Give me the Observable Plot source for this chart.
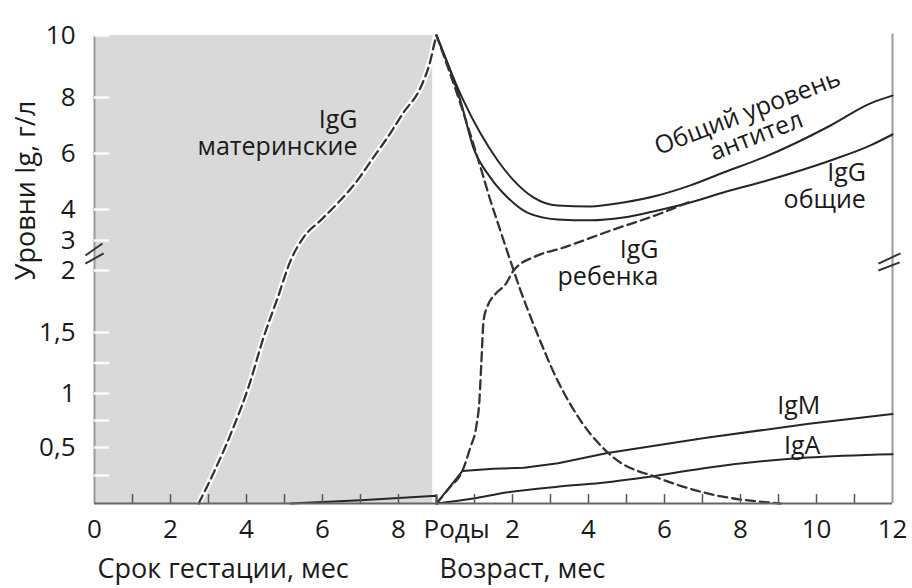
<!DOCTYPE html>
<html><head><meta charset="utf-8">
<script src="https://cdn.jsdelivr.net/npm/d3@7"></script>
<script src="https://cdn.jsdelivr.net/npm/@observablehq/plot@0.6"></script>
<style>body{margin:0;background:#fff} svg{display:block;background:#fff}</style>
</head><body><div id="chart"></div>
<script>
// ---- axis / tick definitions ----
const BIRTH = 9;                       // gestation months at birth (timeline position of "Роды")
const TIMELINE_END = 21;               // 9 months gestation + 12 months of age
const gestTicks = [0, 2, 4, 6, 8];
const ageTicks = [2, 4, 6, 8, 10, 12];
const monthTicks = d3.range(1, 21);
const yMajorTicks = [0.5, 1, 1.5, 2, 3, 4, 6, 8, 10];
const yTickLabels = ["0,5", "1", "1,5", "2", "3", "4", "6", "8", "10"];
const yMinorTicks = [0.25, 0.75, 1.25];
const shadedGestation = [0, 8.9];

// broken y axis: value stops and their height share on the drawn axis
const yStops = [0, 0.5, 1, 1.5, 2, 3, 4, 6, 8, 10];
const yStopShare = [0, 56, 110, 171, 233, 263, 294, 350, 406, 468];

// ---- series (values in g/l) ----
// maternal IgG, before birth (gestation months)
const maternalPreMonths = [2.74, 3.13, 3.66, 4.05, 4.45, 4.82, 5.16, 5.5, 5.95, 6.39, 6.92, 7.34, 7.71, 8.13, 8.58, 8.84, 8.95, 9];
const maternalPreValues = [0, 0.27, 0.69, 1.05, 1.46, 1.78, 2.33, 3.1, 3.65, 4.21, 5.04, 5.86, 6.57, 7.46, 8.32, 9.19, 9.77, 10];
// maternal IgG after birth (age months)
const maternalPostAge = [0, 0.61, 1.16, 1.42, 1.68, 2.03, 2.21, 2.6, 3.18, 3.79, 4.66, 5.82, 7.13, 9.05];
const maternalPostValues = [10, 7.86, 5.5, 4.32, 3.32, 2.0, 1.84, 1.53, 1.11, 0.75, 0.41, 0.23, 0.09, 0];
// total antibody level
const totalAge = [0, 0.71, 1.16, 1.61, 2.03, 2.55, 3.18, 4.05, 4.92, 5.82, 6.68, 7.55, 8.61, 10.37, 11.42, 12];
const totalValues = [10, 7.89, 6.71, 5.75, 5.04, 4.43, 4.14, 4.11, 4.25, 4.5, 4.86, 5.32, 5.86, 7.0, 7.79, 8.06];
// total IgG
const iggTotalAge = [0, 0.63, 0.97, 1.42, 1.87, 2.39, 3.18, 4.05, 4.92, 5.82, 6.68, 7.55, 8.61, 10.37, 11.42, 12];
const iggTotalValues = [10, 7.89, 6.21, 5.14, 4.43, 3.9, 3.68, 3.65, 3.74, 3.97, 4.25, 4.61, 5.0, 5.75, 6.29, 6.68];
// child's own IgG
const childAge = [0, 0.34, 0.68, 0.89, 1.05, 1.13, 1.18, 1.24, 1.34, 1.55, 1.82, 2.03, 2.6, 3.26, 4.58, 5.89, 6.68];
const childValues = [0, 0.14, 0.29, 0.5, 0.7, 0.94, 1.25, 1.6, 1.71, 1.81, 1.89, 2.0, 2.47, 2.73, 3.32, 3.87, 4.29];
// IgM
const igmPreMonths = [5.15, 7, 9, 9];
const igmPreValues = [0, 0.03, 0.07, 0];
const igmAge = [0, 0.68, 1.5, 2.3, 3.2, 4.5, 7.1, 9.8, 12];
const igmValues = [0, 0.29, 0.31, 0.32, 0.36, 0.45, 0.59, 0.72, 0.81];
// IgA
const igaAge = [0, 0.97, 1.87, 3.18, 4.5, 5.82, 7.13, 9.76, 12];
const igaValues = [0, 0.045, 0.1, 0.15, 0.19, 0.25, 0.32, 0.41, 0.44];

// ---- labels (timeline months, g/l) ----
const labels = [
  {text: "IgG\nматеринские", t: 6.92, v: 6.73},
  {text: "IgG\nобщие", t: BIRTH + 11.3, v: 4.84},
  {text: "IgG\nребенка", t: BIRTH + 5.84, v: 2.25},
  {text: "IgM", t: BIRTH + 10.1, v: 0.89},
  {text: "IgA", t: BIRTH + 10.1, v: 0.52}
];
const rotatedLabel = [{text: "Общий уровень\nантител", t: BIRTH + 8.3, v: 7.05}];

// ---- helpers ----
const pre = (months, values) => months.map((m, i) => ({t: m, v: values[i]}));
const post = (ages, values) => ages.map((a, i) => ({t: BIRTH + a, v: values[i]}));

const maternalPre = pre(maternalPreMonths, maternalPreValues);
const maternalPost = post(maternalPostAge, maternalPostValues);
const total = post(totalAge, totalValues);
const iggTotal = post(iggTotalAge, iggTotalValues);
const child = post(childAge, childValues);
const igmPre = pre(igmPreMonths, igmPreValues);
const igm = post(igmAge, igmValues);
const iga = post(igaAge, igaValues);

const xLabelData = [
  ...gestTicks.map(m => ({t: m, label: String(m)})),
  ...ageTicks.map(a => ({t: BIRTH + a, label: String(a)}))
];

// axis break marks (axis position, g/l in the gap between 2 and 3)
const breaks = [
  {t1: -0.24, t2: 0.21, v1: 2.5, v2: 2.9},
  {t1: -0.24, t2: 0.24, v1: 2.23, v2: 2.57},
  {t1: TIMELINE_END - 0.37, t2: TIMELINE_END + 0.21, v1: 2.23, v2: 2.57},
  {t1: TIMELINE_END - 0.37, t2: TIMELINE_END + 0.19, v1: 2.0, v2: 2.27}
];

const brokenY = d3.scaleLinear().domain(yStops).range(yStopShare);

const dark = "#262626";
const dash = "9,5";
const ink = "#1a1a1a";

const chart = Plot.plot({
  width: 912,
  height: 588,
  marginTop: 35,
  marginBottom: 85,
  marginLeft: 94,
  marginRight: 20,
  style: {fontFamily: "'Open Sans', sans-serif", fontSize: "26px", background: "#fff", color: ink},
  x: {domain: [0, TIMELINE_END], range: [94, 892], axis: null},
  y: {transform: v => brokenY(v), domain: [0, yStopShare[yStopShare.length - 1]], axis: null},
  marks: [
    Plot.rect([shadedGestation], {x1: d => d[0], x2: d => d[1], y1: 0, y2: 10, fill: "#d9d9d9"}),
    // axes lines
    Plot.ruleX([0], {y1: 0, y2: 10, stroke: "#9a9a9a", strokeWidth: 2}),
    Plot.ruleX([TIMELINE_END], {y1: 0, y2: 10.05, stroke: "#9a9a9a", strokeWidth: 2}),
    // y ticks (inside)
    Plot.ruleY([...yMajorTicks, ...yMinorTicks], {x1: 0, x2: 0.4, stroke: "#fafafa", strokeWidth: 2.5}),
    // break marks
    Plot.link(breaks, {x1: "t1", x2: "t2", y1: "v1", y2: "v2", stroke: "#333", strokeWidth: 2}),
    // series
    Plot.line(maternalPre, {x: "t", y: "v", stroke: "white", strokeWidth: 6, curve: "monotone-x"}),
    Plot.line(maternalPre, {x: "t", y: "v", stroke: "#333", strokeWidth: 2.3, strokeDasharray: dash, curve: "monotone-x"}),
    Plot.line(igmPre, {x: "t", y: "v", stroke: dark, strokeWidth: 2}),
    Plot.line(total, {x: "t", y: "v", stroke: dark, strokeWidth: 2, curve: "monotone-x"}),
    Plot.line(iggTotal, {x: "t", y: "v", stroke: dark, strokeWidth: 2, curve: "monotone-x"}),
    Plot.line(igm, {x: "t", y: "v", stroke: dark, strokeWidth: 2}),
    Plot.line(iga, {x: "t", y: "v", stroke: dark, strokeWidth: 2, curve: "monotone-x"}),
    Plot.line(maternalPost, {x: "t", y: "v", stroke: "#333", strokeWidth: 2.3, strokeDasharray: dash, curve: "monotone-x"}),
    Plot.line(child, {x: "t", y: "v", stroke: "#333", strokeWidth: 2.3, strokeDasharray: dash, curve: "monotone-x"}),
    // bottom axis + ticks
    Plot.ruleX(monthTicks, {y1: 0, y2: 0.08, stroke: "#555", strokeWidth: 1.5}),
    Plot.ruleY([0], {x1: 0, x2: TIMELINE_END, stroke: "#666", strokeWidth: 2}),
    // tick labels
    Plot.text(xLabelData, {x: "t", text: "label", frameAnchor: "bottom", dy: 26, lineAnchor: "middle", fill: ink}),
    Plot.text([BIRTH], {x: d => d, text: () => "Роды", frameAnchor: "bottom", dy: 26, dx: -13, textAnchor: "start", lineAnchor: "middle", fill: ink}),
    Plot.text(yMajorTicks, {y: d => d, text: (d, i) => yTickLabels[i], frameAnchor: "left", dx: -19, textAnchor: "end", lineAnchor: "middle", fill: ink}),
    // axis titles
    Plot.text([{t: 0, label: "Срок гестации, мес"}, {t: BIRTH, label: "Возраст, мес"}], {x: "t", text: "label", frameAnchor: "bottom", dy: 66, dx: 3, textAnchor: "start", lineAnchor: "middle", fill: ink, fontSize: 27}),
    Plot.text(["Уровни Ig, г/л"], {text: d => d, frameAnchor: "left", rotate: -90, dx: -68, dy: -79, textAnchor: "middle", lineAnchor: "middle", fill: ink, fontSize: 27}),
    // annotations
    Plot.text(labels, {x: "t", y: "v", text: "text", textAnchor: "end", lineAnchor: "middle", lineHeight: 1.05, fontSize: 25, fill: ink}),
    Plot.text(rotatedLabel, {x: "t", y: "v", text: "text", rotate: -21, lineAnchor: "middle", lineHeight: 1.0, fontSize: 25, fill: ink})
  ]
});
document.getElementById("chart").appendChild(chart);
</script>
</body></html>
